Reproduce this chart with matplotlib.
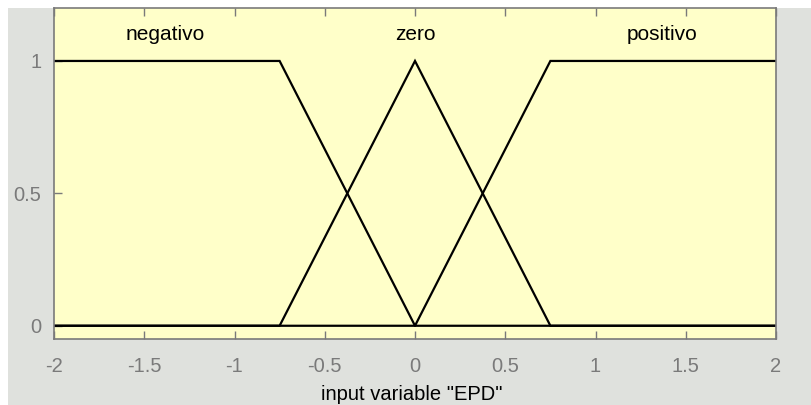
import matplotlib.pyplot as plt
from matplotlib.patches import Rectangle

# ----------------------------------------
#  Membership functions for input "EPD"
# ----------------------------------------
MF_NAMES = ["negativo", "zero", "positivo"]
MF_X = [
    [-2.0, -0.75, 0.0, 2.0],   # negativo (trapezoid)
    [-2.0, -0.75, 0.0, 0.75, 2.0],  # zero (triangle)
    [-2.0, 0.0, 0.75, 2.0],    # positivo (trapezoid)
]
MF_Y = [
    [1, 1, 0, 0],
    [0, 0, 1, 0, 0],
    [0, 0, 1, 1],
]
LABEL_X = [-1.385, 0.0, 1.37]
LABEL_Y = 1.10

X_TICKS = [-2, -1.5, -1, -0.5, 0, 0.5, 1, 1.5, 2]
X_TICK_LABELS = ["-2", "-1.5", "-1", "-0.5", "0", "0.5", "1", "1.5", "2"]
Y_TICKS = [0, 0.5, 1]
Y_TICK_LABELS = ["0", "0.5", "1"]
X_LABEL = 'input variable "EPD"'

FIG_BG = "#dfe1dd"
AX_BG = "#ffffc9"
GRAY = "#7a7a7a"

plt.rcParams["font.family"] = ["Liberation Sans", "DejaVu Sans"]

fig = plt.figure(figsize=(8.11, 4.05), dpi=100, facecolor="white")
# gray window area (white strip on top/left like the screenshot)
fig.patches.append(Rectangle((8 / 811, 0), 1, 397 / 405, transform=fig.transFigure,
                             facecolor=FIG_BG, edgecolor="none", zorder=-10))

ax = fig.add_axes([54 / 811, 66 / 405, 722 / 811, 331 / 405])
ax.set_facecolor(AX_BG)

for xs, ys in zip(MF_X, MF_Y):
    ax.plot(xs, ys, color="black", linewidth=1.6, solid_joinstyle="miter")

for name, lx in zip(MF_NAMES, LABEL_X):
    ax.text(lx, LABEL_Y, name, ha="center", va="center", fontsize=15, color="black")

ax.set_xlim(-2, 2)
ax.set_ylim(-0.05, 1.2)
ax.set_xticks(X_TICKS)
ax.set_xticklabels(X_TICK_LABELS)
ax.set_yticks(Y_TICKS)
ax.set_yticklabels(Y_TICK_LABELS)
ax.tick_params(axis="x", direction="in", top=True, bottom=True, length=6,
               width=1, color=GRAY, labelcolor=GRAY, labelsize=14.5, pad=13)
ax.tick_params(axis="y", direction="in", left=True, right=False, length=6,
               width=1, color=GRAY, labelcolor=GRAY, labelsize=14.5, pad=9)
for sp in ax.spines.values():
    sp.set_color(GRAY)
    sp.set_linewidth(1.2)

fig.text(412 / 811, 1 - 394 / 405, X_LABEL, ha="center", va="center",
         fontsize=14.5, color="black")

fig.savefig("out.png", dpi=100, facecolor=fig.get_facecolor())
